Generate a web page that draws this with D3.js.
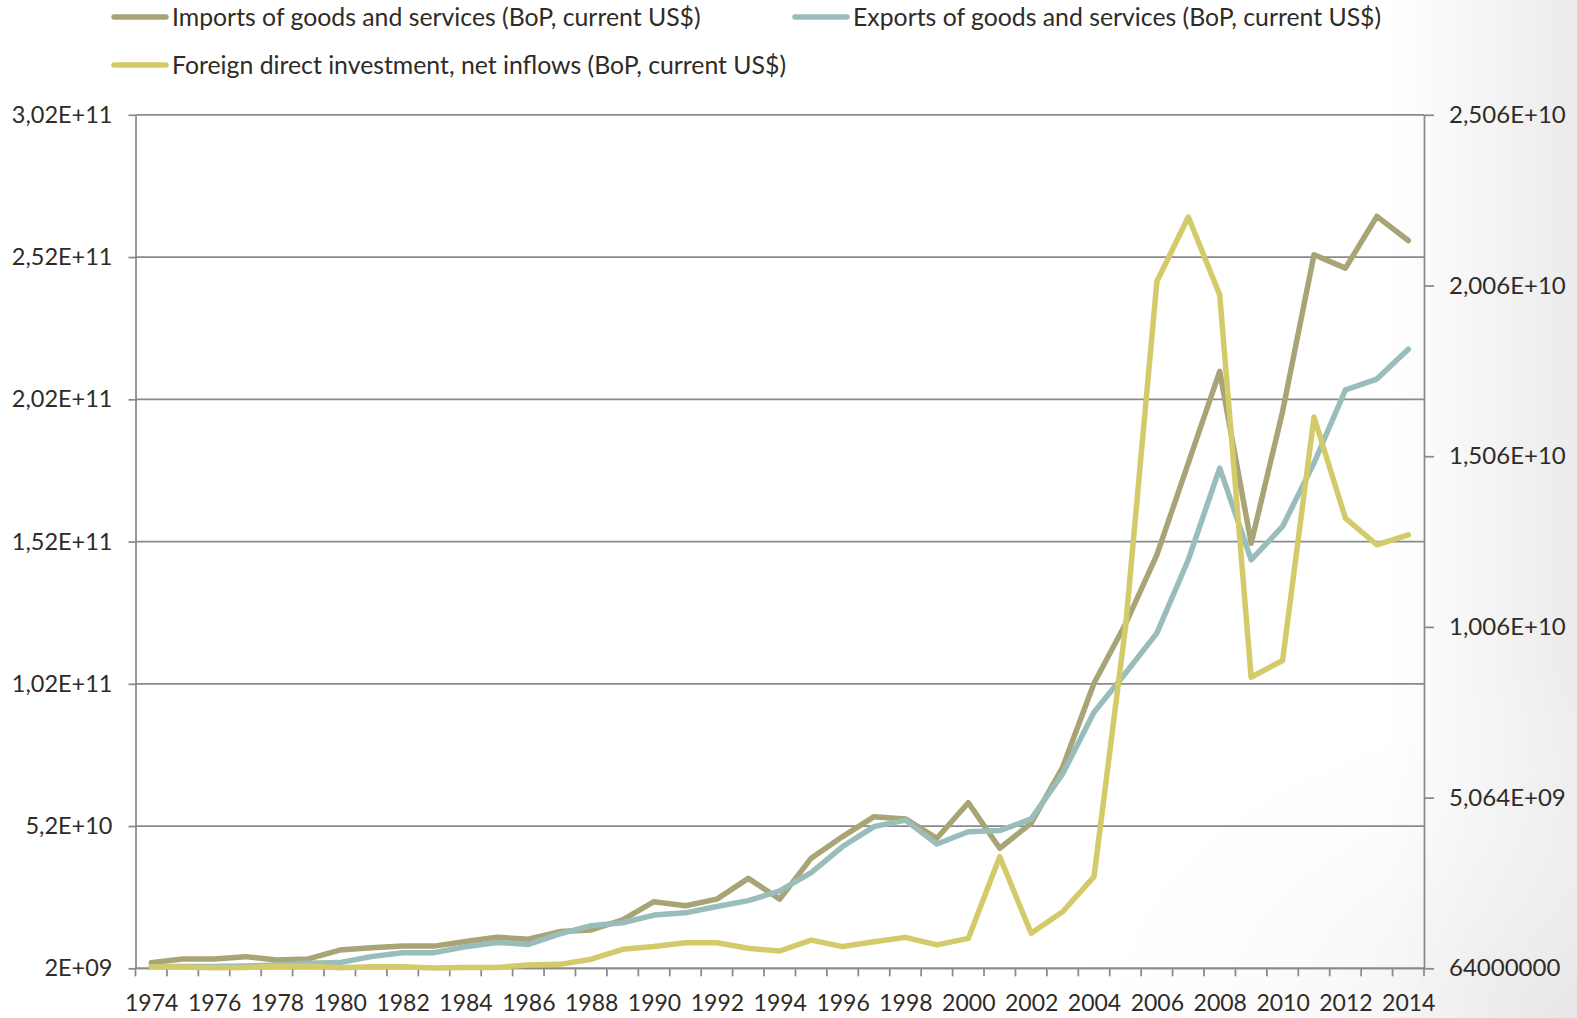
<!DOCTYPE html>
<html>
<head>
<meta charset="utf-8">
<script src="https://cdn.jsdelivr.net/npm/d3@7/dist/d3.min.js"></script>
<style>
  html, body { margin: 0; padding: 0; background: #fff; }
  svg { display: block; }
  text { font-family: Lato, "Open Sans", "Liberation Sans", sans-serif; fill: #2f2b26; }
</style>
</head>
<body>
<svg id="chart" width="1577" height="1018"></svg>
<script>
// Years on the category axis
const years = d3.range(1974, 2015);

// Imports of goods and services (BoP, current US$), billions
const importsBn = [
  4.0, 5.3, 5.3, 6.1, 4.9, 5.3, 8.4, 9.2, 9.8, 9.8, 11.4,
  12.9, 12.2, 14.9, 15.5, 19.0, 25.4, 24.0, 26.3, 33.6, 26.3,
  40.7, 48.3, 55.3, 54.5, 47.7, 60.2, 44.2, 53.0, 72.6, 102.2,
  123.0, 147.3, 179.6, 211.8, 151.4, 197.7, 252.8, 248.1, 266.3, 257.8
];

// Exports of goods and services (BoP, current US$), billions
const exportsBn = [
  2.6, 2.6, 2.6, 2.8, 3.2, 3.8, 4.0, 6.1, 7.5, 7.5, 9.6,
  11.1, 10.4, 14.1, 17.0, 18.0, 20.7, 21.5, 23.7, 25.8, 29.2,
  35.6, 44.8, 51.8, 54.1, 45.7, 50.0, 50.4, 54.5, 70.3, 92.0,
  105.7, 119.8, 145.6, 177.8, 145.6, 157.3, 179.6, 205.3, 209.1, 219.6
];

// Foreign direct investment, net inflows (BoP, current US$), billions — secondary axis
const fdiBn = [
  0.10, 0.10, 0.08, 0.09, 0.12, 0.13, 0.08, 0.11, 0.11, 0.07, 0.09,
  0.09, 0.16, 0.18, 0.33, 0.62, 0.70, 0.81, 0.81, 0.65, 0.57,
  0.89, 0.70, 0.84, 0.97, 0.75, 0.94, 3.33, 1.09, 1.72, 2.75,
  10.04, 20.18, 22.07, 19.79, 8.59, 9.08, 16.21, 13.25, 12.47, 12.76
];

// Axis ticks and their printed labels
const leftTicks = [2e9, 52e9, 102e9, 152e9, 202e9, 252e9, 302e9];
const leftTickLabels = ["2E+09", "5,2E+10", "1,02E+11", "1,52E+11", "2,02E+11", "2,52E+11", "3,02E+11"];
const rightTicks = [0.064e9, 5.064e9, 10.064e9, 15.064e9, 20.064e9, 25.064e9];
const rightTickLabels = ["64000000", "5,064E+09", "1,006E+10", "1,506E+10", "2,006E+10", "2,506E+10"];
const yearLabels = years.filter(y => y % 2 === 0);

const seriesNames = [
  "Imports of goods and services (BoP, current US$)",
  "Exports of goods and services (BoP, current US$)",
  "Foreign direct investment, net inflows (BoP, current US$)"
];
const seriesColors = ["#a8a476", "#99bdba", "#d3cb69"];

const svg = d3.select("#chart");
const W = 1577, H = 1018;
const plot = { left: 135.5, right: 1424, top: 114.8, bottom: 968.3 };

// soft grey shading toward the right edge of the slide
const defs = svg.append("defs");
const lg = defs.append("linearGradient").attr("id", "edgeShade").attr("x1", 0).attr("x2", 1).attr("y1", 0).attr("y2", 0);
lg.append("stop").attr("offset", "0.88").attr("stop-color", "#ffffff");
lg.append("stop").attr("offset", "1").attr("stop-color", "#ebebeb");
const rg = defs.append("radialGradient").attr("id", "cornerShade")
  .attr("cx", 1).attr("cy", 1).attr("r", 0.35);
rg.append("stop").attr("offset", "0").attr("stop-color", "#e6e6e6").attr("stop-opacity", 0.8);
rg.append("stop").attr("offset", "1").attr("stop-color", "#ffffff").attr("stop-opacity", 0);
svg.append("rect").attr("width", W).attr("height", H).attr("fill", "url(#edgeShade)");
svg.append("rect").attr("width", W).attr("height", H).attr("fill", "url(#cornerShade)");

// scales
const x = d3.scalePoint().domain(years).range([plot.left, plot.right]).padding(0.5);
const step = x.step();
const yL = d3.scaleLinear().domain([2e9, 302e9]).range([plot.bottom, plot.top]);
const yR = d3.scaleLinear().domain([0.064e9, 25.064e9]).range([plot.bottom, plot.top]);

const gridColor = "#8a8a8a";

// horizontal gridlines
svg.append("g").selectAll("line").data(leftTicks).join("line")
  .attr("x1", plot.left).attr("x2", plot.right)
  .attr("y1", d => yL(d)).attr("y2", d => yL(d))
  .attr("stroke", gridColor).attr("stroke-width", 1.75);

// left axis
const leftAxis = svg.append("g").attr("transform", `translate(${plot.left},0)`)
  .call(d3.axisLeft(yL).tickValues(leftTicks).tickSize(7).tickSizeOuter(0).tickPadding(16)
    .tickFormat((d, i) => leftTickLabels[i]));

// right axis
const rightAxis = svg.append("g").attr("transform", `translate(${plot.right},0)`)
  .call(d3.axisRight(yR).tickValues(rightTicks).tickSize(10).tickSizeOuter(0).tickPadding(15)
    .tickFormat((d, i) => rightTickLabels[i]));

// bottom axis: labels every other year, ticks at category boundaries
const bottomAxis = svg.append("g").attr("transform", `translate(0,${plot.bottom})`)
  .call(d3.axisBottom(x).tickValues(yearLabels).tickSize(0).tickSizeOuter(0).tickPadding(26));
const boundaries = years.map(y => x(y) - step / 2).concat([x(years[years.length - 1]) + step / 2]);
svg.append("g").selectAll("line").data(boundaries).join("line")
  .attr("x1", d => d).attr("x2", d => d)
  .attr("y1", plot.bottom).attr("y2", plot.bottom + 8)
  .attr("stroke", gridColor).attr("stroke-width", 1.75);

[leftAxis, rightAxis, bottomAxis].forEach(g => {
  g.selectAll(".domain").attr("stroke", gridColor).attr("stroke-width", 1.75);
  g.selectAll(".tick line").attr("stroke", gridColor).attr("stroke-width", 1.75);
  g.selectAll(".tick text").attr("font-size", 23.5).attr("fill", "#2f2b26")
    .style("font-family", "Lato, 'Open Sans', sans-serif");
});
rightAxis.selectAll(".tick text").attr("font-size", 24);
bottomAxis.selectAll(".tick text").attr("font-size", 23);
bottomAxis.select(".domain").attr("d", `M${plot.left},0H${plot.right}`);

// data lines: imports, exports on the left scale; FDI on the right scale
const lineL = d3.line().x((d, i) => x(years[i])).y(d => yL(d * 1e9));
const lineR = d3.line().x((d, i) => x(years[i])).y(d => yR(d * 1e9));

const seriesPaths = [
  { data: importsBn, gen: lineL },
  { data: exportsBn, gen: lineL },
  { data: fdiBn, gen: lineR }
];
svg.append("g").selectAll("path").data(seriesPaths).join("path")
  .attr("d", d => d.gen(d.data))
  .attr("fill", "none")
  .attr("stroke", (d, i) => seriesColors[i])
  .attr("stroke-width", 5.5)
  .attr("stroke-linejoin", "round")
  .attr("stroke-linecap", "round");

// legend
const legendItems = [
  { x: 114, y: 17, i: 0 },
  { x: 795, y: 17, i: 1 },
  { x: 114, y: 65, i: 2 }
];
const legend = svg.append("g").selectAll("g").data(legendItems).join("g")
  .attr("transform", d => `translate(${d.x},${d.y})`);
legend.append("line")
  .attr("x1", 0).attr("x2", 52).attr("y1", 0).attr("y2", 0)
  .attr("stroke", d => seriesColors[d.i]).attr("stroke-width", 5.5)
  .attr("stroke-linecap", "round");
legend.append("text")
  .attr("x", 58).attr("y", 9)
  .attr("font-size", 24.8)
  .text(d => seriesNames[d.i]);
</script>
</body>
</html>
